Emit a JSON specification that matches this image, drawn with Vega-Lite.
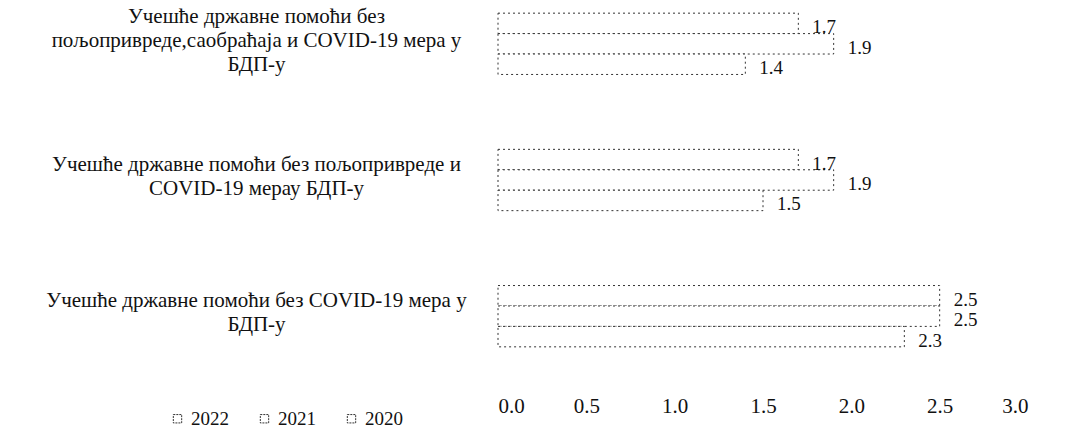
{
  "$schema": "https://vega.github.io/schema/vega-lite/v6.json",
  "autosize": "none",
  "width": 530,
  "height": 350,
  "padding": {"left": 498, "top": 5, "right": 61, "bottom": 80},
  "background": "white",
  "config": {
    "font": "Liberation Serif",
    "view": {"stroke": null},
    "axis": {"labelFont": "Liberation Serif", "labelColor": "#111", "grid": false, "domain": false, "ticks": false}
  },
  "data": {
    "values": [
      {"category": "Учешће државне помоћи без пољопривреде,саобраћаја и COVID-19 мера у БДП-у", "year": "2022", "value": 1.7},
      {"category": "Учешће државне помоћи без пољопривреде,саобраћаја и COVID-19 мера у БДП-у", "year": "2021", "value": 1.9},
      {"category": "Учешће државне помоћи без пољопривреде,саобраћаја и COVID-19 мера у БДП-у", "year": "2020", "value": 1.4},
      {"category": "Учешће државне помоћи без пољопривреде и COVID-19 мерау БДП-у", "year": "2022", "value": 1.7},
      {"category": "Учешће државне помоћи без пољопривреде и COVID-19 мерау БДП-у", "year": "2021", "value": 1.9},
      {"category": "Учешће државне помоћи без пољопривреде и COVID-19 мерау БДП-у", "year": "2020", "value": 1.5},
      {"category": "Учешће државне помоћи без COVID-19 мера у БДП-у", "year": "2022", "value": 2.5},
      {"category": "Учешће државне помоћи без COVID-19 мера у БДП-у", "year": "2021", "value": 2.5},
      {"category": "Учешће државне помоћи без COVID-19 мера у БДП-у", "year": "2020", "value": 2.3}
    ]
  },
  "encoding": {
    "y": {
      "field": "category", "type": "nominal", "sort": null, "title": null,
      "scale": {"paddingInner": 0.55, "paddingOuter": 0.06},
      "axis": {
        "labelAlign": "center", "labelPadding": 242, "labelFontSize": 21, "labelLimit": 0, "labelLineHeight": 24, "labelBaseline": "middle",
        "labelOffset": {"condition": {"test": "length(datum.value) > 70", "value": -27}, "value": -15},
        "labelExpr": "datum.value == 'Учешће државне помоћи без пољопривреде,саобраћаја и COVID-19 мера у БДП-у' ? ['Учешће државне помоћи  без', 'пољопривреде,саобраћаја и COVID-19  мера у', 'БДП-у'] : datum.value == 'Учешће државне помоћи без пољопривреде и COVID-19 мерау БДП-у' ? ['Учешће државне помоћи  без пољопривреде и', 'COVID-19 мерау БДП-у'] : ['Учешће државне помоћи без COVID-19 мера у', 'БДП-у']"
      }
    },
    "yOffset": {"field": "year", "type": "nominal", "sort": ["2022", "2021", "2020"]},
    "x": {
      "field": "value", "type": "quantitative", "title": null,
      "scale": {"domain": [0, 3]},
      "axis": {"values": [0, 0.5, 1, 1.5, 2, 2.5, 3], "format": ".1f", "labelFontSize": 21, "offset": 36, "labelPadding": 4}
    }
  },
  "layer": [
    {
      "mark": {"type": "bar", "fill": "white", "strokeWidth": 1, "strokeDash": [2, 3]},
      "encoding": {
        "stroke": {
          "field": "year", "type": "nominal", "sort": ["2022", "2021", "2020"],
          "scale": {"range": ["#333", "#333", "#333"]},
          "legend": {
            "title": null, "orient": "none", "direction": "horizontal", "legendX": -330, "legendY": 404,
            "symbolType": "square", "symbolSize": 70, "symbolFillColor": "white", "symbolStrokeWidth": 1, "symbolDash": [2, 1],
            "labelFontSize": 19, "labelFont": "Liberation Serif", "labelColor": "#111", "columnPadding": 26, "labelOffset": 4
          }
        }
      }
    },
    {
      "mark": {"type": "text", "align": "left", "baseline": "middle", "dx": 14, "dy": 4, "fontSize": 19, "font": "Liberation Serif", "color": "#111"},
      "encoding": {"text": {"field": "value", "type": "quantitative", "format": ".1f"}}
    }
  ]
}
